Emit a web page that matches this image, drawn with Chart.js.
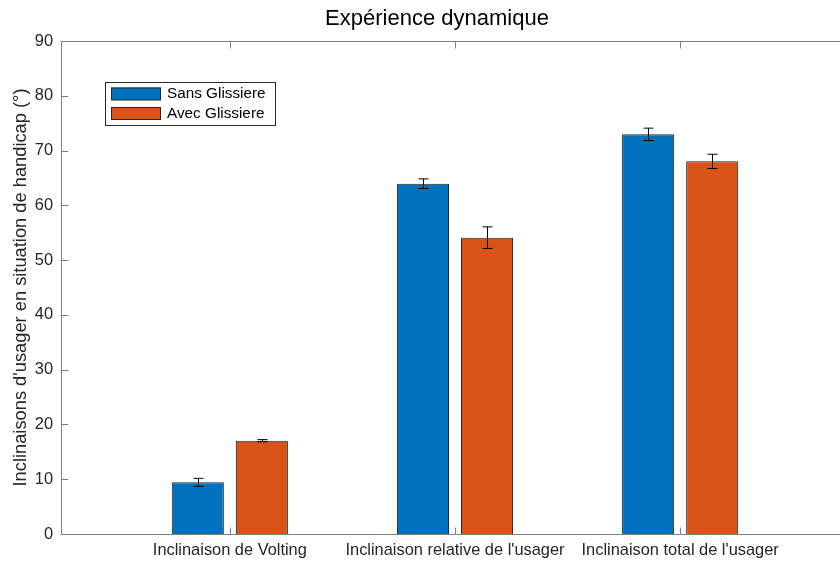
<!DOCTYPE html>
<html>
<head>
<meta charset="utf-8">
<script src="https://cdn.jsdelivr.net/npm/chart.js@4"></script>
<style>
  html, body { margin: 0; padding: 0; background: #fff; overflow: hidden; }
  #wrap { width: 874px; height: 564px; }
</style>
</head>
<body>
<div id="wrap"><canvas id="c" width="874" height="564"></canvas></div>
<script>
const categories = ['Inclinaison de Volting', "Inclinaison relative de l'usager", "Inclinaison total de l'usager"];
const sansGlissiere = [9.43, 63.95, 72.96];
const sansErr = [0.73, 0.88, 1.13];
const avecGlissiere = [17.03, 54.1, 68.03];
const avecErr = [0.2, 1.97, 1.3];
const yTicks = [0, 10, 20, 30, 40, 50, 60, 70, 80, 90];

const FONT = "'Liberation Sans', Arial, Helvetica, sans-serif";
const AXIS = '#808080';
const TEXT = '#262626';

const toPoints = vals => vals.map((v, i) => ({ x: i + 1, y: v }));

// MATLAB style box with inward ticks, plus the error bars and legend
const matlabBits = {
  id: 'matlabBits',
  afterDatasetsDraw(chart) {
    const { ctx, chartArea: a, scales } = chart;
    const xs = scales.x, ys = scales.y;
    ctx.save();

    // error bars
    ctx.strokeStyle = '#000';
    ctx.lineWidth = 1;
    const errs = [sansErr, avecErr];
    chart.data.datasets.forEach((ds, di) => {
      const meta = chart.getDatasetMeta(di);
      meta.data.forEach((bar, j) => {
        const v = ds.data[j].y, e = errs[di][j];
        const x = Math.round(bar.x) + 0.5;
        const y1 = ys.getPixelForValue(v + e), y2 = ys.getPixelForValue(v - e);
        ctx.beginPath();
        ctx.moveTo(x, y1); ctx.lineTo(x, y2);
        ctx.moveTo(x - 5, y1); ctx.lineTo(x + 5, y1);
        ctx.moveTo(x - 5, y2); ctx.lineTo(x + 5, y2);
        ctx.stroke();
      });
    });

    // box
    ctx.strokeStyle = AXIS;
    ctx.lineWidth = 1;
    const L = Math.round(a.left) + 0.5, R = Math.round(a.right) + 0.5;
    const T = Math.round(a.top) + 0.5, B = Math.round(a.bottom) + 0.5;
    ctx.strokeRect(L, T, R - L, B - T);

    // inward ticks
    const tl = 7;
    ctx.beginPath();
    yTicks.forEach(v => {
      const y = Math.round(ys.getPixelForValue(v)) + 0.5;
      ctx.moveTo(L, y); ctx.lineTo(L + tl, y);
      ctx.moveTo(R, y); ctx.lineTo(R - tl, y);
    });
    categories.forEach((c, i) => {
      const x = Math.round(xs.getPixelForValue(i + 1)) + 0.5;
      ctx.moveTo(x, B); ctx.lineTo(x, B - tl);
      ctx.moveTo(x, T); ctx.lineTo(x, T + tl);
    });
    ctx.stroke();

    // legend
    const lx = 105.5, ly = 82.5, lw = 170, lh = 43;
    ctx.fillStyle = '#fff';
    ctx.fillRect(lx, ly, lw, lh);
    ctx.strokeStyle = '#262626';
    ctx.strokeRect(lx, ly, lw, lh);
    ctx.font = '15.3px ' + FONT;
    ctx.textBaseline = 'middle';
    ctx.textAlign = 'left';
    chart.data.datasets.forEach((ds, di) => {
      const sy = 87.5 + di * 19.5;
      ctx.fillStyle = ds.backgroundColor;
      ctx.fillRect(111, sy, 50, 12.5);
      ctx.strokeStyle = '#262626';
      ctx.strokeRect(111.5, sy + 0.5, 49, 12);
      ctx.fillStyle = '#000';
      ctx.fillText(ds.label, 167, sy + 6.5);
    });
    ctx.restore();
  }
};

new Chart(document.getElementById('c'), {
  type: 'bar',
  data: {
    datasets: [
      {
        label: 'Sans Glissiere',
        data: toPoints(sansGlissiere),
        backgroundColor: '#0072BD',
        borderColor: '#262626',
        borderWidth: 1
      },
      {
        label: 'Avec Glissiere',
        data: toPoints(avecGlissiere),
        backgroundColor: '#D95319',
        borderColor: '#262626',
        borderWidth: 1
      }
    ]
  },
  options: {
    responsive: false,
    animation: false,
    categoryPercentage: 0.569,
    barPercentage: 0.8125,
    layout: { padding: 0 },
    scales: {
      x: {
        type: 'linear',
        offset: false,
        min: 0.25,
        max: 3.75,
        afterBuildTicks: s => { s.ticks = categories.map((c, i) => ({ value: i + 1 })); },
        afterFit: s => { s.height = 30; },
        grid: { display: false, drawTicks: false, offset: false },
        border: { display: false },
        ticks: {
          padding: 7,
          maxRotation: 0,
          autoSkip: false,
          color: TEXT,
          font: { family: FONT, size: 16.4 },
          callback: v => categories[v - 1]
        }
      },
      y: {
        min: 0,
        max: 90,
        afterBuildTicks: s => { s.ticks = yTicks.map(v => ({ value: v })); },
        afterFit: s => { s.width = 61; },
        grid: { display: false, drawTicks: false },
        border: { display: false },
        ticks: { padding: 8, color: TEXT, font: { family: FONT, size: 16.4 } },
        title: {
          display: true,
          text: "Inclinaisons d'usager en situation de handicap (°)",
          color: TEXT,
          font: { family: FONT, size: 18.3 },
          padding: { top: 9.5, bottom: 0 }
        }
      },
      yRight: {
        position: 'right',
        afterFit: s => { s.width = 25; },
        grid: { display: false, drawTicks: false },
        border: { display: false },
        ticks: { display: false }
      }
    },
    plugins: {
      legend: { display: false },
      tooltip: { enabled: false },
      title: {
        display: true,
        text: 'Expérience dynamique',
        color: '#000',
        font: { family: FONT, size: 22, weight: 'normal' },
        padding: { top: 5.3, bottom: 9.3 }
      }
    }
  },
  plugins: [matlabBits]
});
</script>
</body>
</html>
